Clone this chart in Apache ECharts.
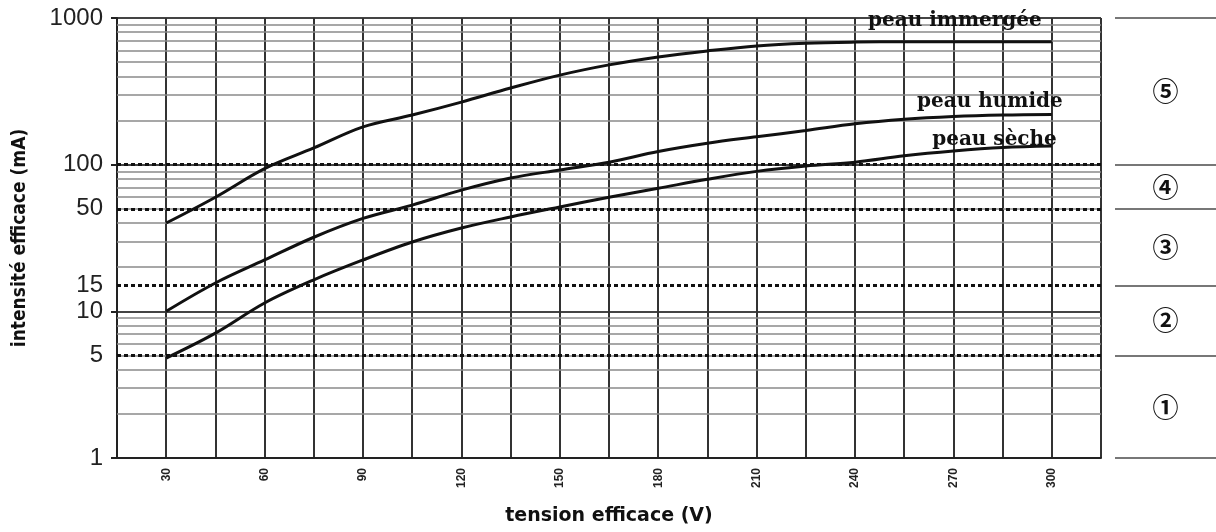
<!DOCTYPE html>
<html>
<head>
<meta charset="utf-8">
<script src="https://cdn.jsdelivr.net/npm/echarts@6/dist/echarts.min.js"></script>
<style>
html, body { margin: 0; padding: 0; background: #fff; }
#chart { width: 1216px; height: 532px; }
</style>
</head>
<body>
<div id="chart"></div>
<script>
// tension efficace (V)
const voltages = [30, 45, 60, 75, 90, 105, 120, 135, 150, 165, 180, 195, 210, 225, 240, 255, 270, 285, 300]
// intensité efficace (mA)
const peauImmergee = [40, 60, 94, 130, 181, 218, 267, 333, 408, 479, 542, 596, 645, 673, 685, 689, 690, 690, 690]
const peauHumide = [10, 15.6, 22.4, 32, 43, 53, 67, 81, 92, 104, 123, 140, 155, 171, 190, 204, 213, 218, 220]
const peauSeche = [4.8, 7.1, 11.4, 16.4, 22.4, 29.7, 37, 44, 51.5, 60, 69, 79.5, 90, 98, 104, 115, 124, 131, 134]

const yTickLabels = [1, 5, 10, 15, 50, 100, 1000]
const seuils = [5, 15, 50, 100]
const minorLines = [2, 3, 4, 5, 6, 7, 8, 9, 20, 30, 40, 50, 60, 70, 80, 90, 200, 300, 400, 500, 600, 700, 800, 900]

// zones à droite
const zoneBounds = [1, 5, 15, 50, 100, 1000]
const zoneLabels = ['①', '②', '③', '④', '⑤']

const chart = echarts.init(document.getElementById('chart'))

function curve(name, values, lbl) {
    return {
        name: name,
        type: 'line',
        smooth: 0.35,
        symbol: 'circle',
        symbolSize: 1,
        showAllSymbol: true,
        itemStyle: { color: 'rgba(0,0,0,0)' },
        lineStyle: { color: '#111', width: 3 },
        emphasis: { disabled: true },
        z: 5,
        data: values.map((v, i) => {
            if (i === values.length - 1) {
                return {
                    value: [voltages[i], v],
                    label: Object.assign({
                        show: true,
                        formatter: name,
                        position: 'top',
                        distance: 0,
                        align: 'right',
                        verticalAlign: 'middle',
                        fontFamily: 'DejaVu Serif',
                        fontWeight: 'bold',
                        fontSize: 20,
                        color: '#111'
                    }, lbl)
                }
            }
            return [voltages[i], v]
        })
    }
}

const option = {
    backgroundColor: '#fff',
    animation: false,
    grid: [
        { left: 117, right: 115, top: 18, bottom: 74, outerBoundsMode: 'none' },
        { left: 1115, right: 0, top: 18, bottom: 74, outerBoundsMode: 'none' }
    ],
    xAxis: [{
        type: 'value',
        gridIndex: 0,
        min: 15,
        max: 315,
        interval: 15,
        axisLine: { show: true, lineStyle: { color: '#222', width: 2 } },
        axisTick: { show: false },
        splitLine: { show: true, lineStyle: { color: '#333', width: 2 } },
        axisLabel: {
            formatter: (v) => (v % 30 === 0 && v >= 30 && v <= 300) ? String(v) : '',
            rotate: 90,
            fontSize: 12,
            fontWeight: 'bold',
            color: '#222',
            margin: 10
        },
        name: 'tension efficace (V)',
        nameLocation: 'middle',
        nameGap: 49,
        nameTextStyle: { fontFamily: 'DejaVu Sans', fontWeight: 'bold', fontSize: 19, color: '#111' }
    }, {
        type: 'value', gridIndex: 1, min: 0, max: 1, show: false
    }],
    yAxis: [{
        type: 'log',
        logBase: 10,
        gridIndex: 0,
        min: 1,
        max: 1000,
        axisLine: { show: true, lineStyle: { color: '#222', width: 2 } },
        axisTick: { show: true, length: 6, lineStyle: { color: '#222', width: 2 } },
        axisLabel: {
            customValues: yTickLabels,
            formatter: (v) => String(Math.round(v)),
            fontSize: 24,
            color: '#222',
            fontFamily: 'Liberation Sans',
            margin: 14
        },
        splitLine: { show: true, lineStyle: { color: '#444', width: 2 } },
        name: 'intensité efficace (mA)',
        nameLocation: 'middle',
        nameRotate: 90,
        nameGap: 87,
        nameTextStyle: {
            fontFamily: "'Liberation Sans Narrow', 'DejaVu Sans Condensed', sans-serif",
            fontWeight: 'bold',
            fontSize: 19,
            color: '#111'
        }
    }, {
        type: 'log', logBase: 10, gridIndex: 1, min: 1, max: 1000, show: false
    }],
    series: [
        // lignes secondaires du papier log
        {
            type: 'line', data: [], silent: true,
            markLine: {
                silent: true, symbol: 'none', animation: false,
                label: { show: false },
                lineStyle: { color: '#8a8a8a', width: 1.5, type: 'solid' },
                data: minorLines.map(v => ({ yAxis: v }))
            }
        },
        // seuils en pointillés
        {
            type: 'line', data: [], silent: true,
            markLine: {
                silent: true, symbol: 'none', animation: false,
                label: { show: false },
                lineStyle: { color: '#111', width: 3, type: [4, 3] },
                data: seuils.map(v => ({ yAxis: v }))
            }
        },
        curve('peau immergée', peauImmergee, { offset: [-10, -20] }),
        curve('peau humide', peauHumide, { offset: [11, -12] }),
        curve('peau sèche', peauSeche, { offset: [5, -6] }),
        // zones 1 à 5
        {
            type: 'line', data: [], silent: true, xAxisIndex: 1, yAxisIndex: 1,
            markLine: {
                silent: true, symbol: 'none', animation: false,
                label: { show: false },
                lineStyle: { color: '#777', width: 2, type: 'solid' },
                data: zoneBounds.map(v => ({ yAxis: v }))
            },
            markArea: {
                silent: true,
                itemStyle: { color: 'rgba(0,0,0,0)' },
                label: {
                    show: true, position: 'inside',
                    fontFamily: 'Noto Sans CJK SC', fontWeight: 'bold', fontSize: 26, color: '#111'
                },
                data: zoneLabels.map((t, i) => [{ name: t, yAxis: zoneBounds[i] }, { yAxis: zoneBounds[i + 1] }])
            }
        }
    ]
}

chart.setOption(option)
</script>
</body>
</html>
